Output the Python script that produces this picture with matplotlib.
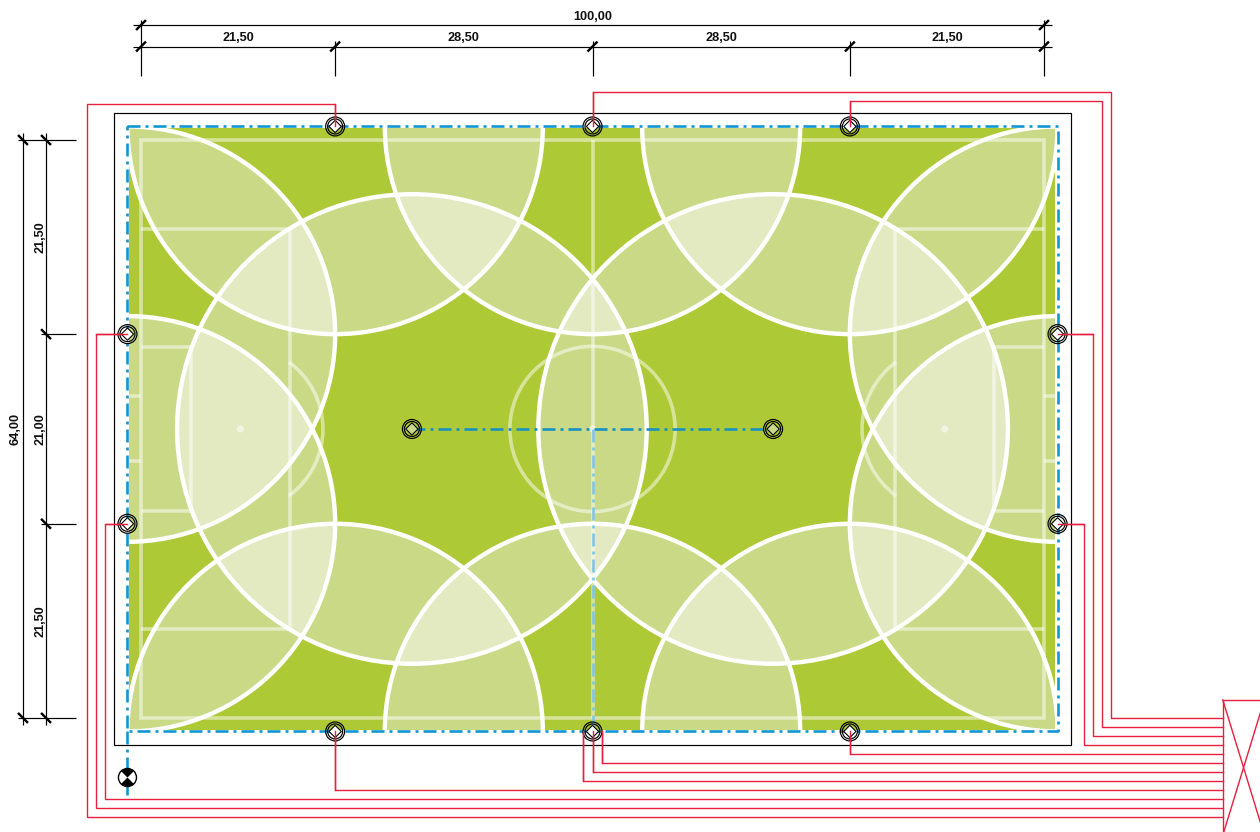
"""
plot.py - floodlighting plan of a 100 x 64 m pitch: light circles, poles, cable runs, dimensions.
All plan values are in metres, the axes map 1 m to 9.03 px.
"""
import numpy as np
import matplotlib; matplotlib.use("Agg"); import matplotlib.pyplot as plt
from matplotlib.patches import Circle, Rectangle, Polygon, Arc, Wedge

plt.rcParams["font.family"] = ["Liberation Sans", "DejaVu Sans"]

GREEN, LIGHT, LIGHTER = "#ADC935", "#C9D985", "#E3EAC2"
RED, BLUE, PALEBLUE = "#E8203F", "#0F95D3", "#7CC4E8"
PX = 0.72  # 1 px in points at dpi 100
SCALE = 9.03

# poles
POLE_X = [21.5, 50, 78.5, 21.5, 50, 78.5, -1.5, -1.5, 101.5, 101.5]
POLE_Y = [-1.5, -1.5, -1.5, 65.5, 65.5, 65.5, 21.5, 42.5, 21.5, 42.5]
CENTER_POLE_X = [30, 70]
CENTER_POLE_Y = [32, 32]
POLE_REACH = 23
CENTER_REACH = 26

# field, pitch markings
FIELD = [-1.29, -1.3, 101.2, 65.3]
FENCE = [-3, -3, 103, 67]
PITCH_W, PITCH_H = 100, 64
HALFWAY = 50
CENTER_R = 9.15
PENALTY_DEPTH, PENALTY_Y = 16.5, [9.85, 54.1]
GOAL_DEPTH, GOAL_Y = 5.5, [22.9, 41.1]
GOALPOST_Y = [28.3, 35.6]
PENALTY_SPOT = 11
ARC_HALF_ANGLE = 54

# cable runs, from pole to switch box
WIRES = [
    ([21.5, 21.5, -6, -6, 119.8], [-1.5, -4, -4, 75, 75]),
    ([-1.5, -5, -5, 119.8], [21.5, 21.5, 74, 74]),
    ([-1.5, -4, -4, 119.8], [42.5, 42.5, 73, 73]),
    ([21.5, 21.5, 119.8], [65.5, 72, 72]),
    ([49, 49, 119.8], [65.5, 71, 71]),
    ([50, 50, 119.8], [65.5, 70, 70]),
    ([51, 51, 119.8], [65.5, 69, 69]),
    ([78.5, 78.5, 119.8], [65.5, 68, 68]),
    ([101.5, 104.4, 104.4, 119.8], [42.5, 42.5, 67, 67]),
    ([101.5, 105.4, 105.4, 119.8], [21.5, 21.5, 66, 66]),
    ([78.5, 78.5, 106.4, 106.4, 119.8], [-1.5, -4.35, -4.35, 65, 65]),
    ([50, 50, 107.4, 107.4, 119.8], [-1.5, -5.35, -5.35, 64, 64]),
]
BOX_X = [119.8, 124.4]
BOX_Y = [62, 77]

# dimensions
TOP_CHAIN = [0, 21.5, 50, 78.5, 100]
TOP_LABELS = ["21,50", "28,50", "28,50", "21,50"]
LEFT_CHAIN = [0, 21.5, 42.5, 64]
LEFT_LABELS = ["21,50", "21,00", "21,50"]
TOTAL_LABEL_X, TOTAL_LABEL_Y = "100,00", "64,00"
DIM_OUTER, DIM_INNER, DIM_END = -12.73, -10.35, -7.09
DIM_LEFT_OUTER, DIM_LEFT_INNER, DIM_LEFT_END = -13.07, -10.52, -7.2
DRAIN_X, DRAIN_Y = -1.5, 70.6
DRAIN_LINE_END = 72.5

fig = plt.figure(figsize=(12.6, 8.32), dpi=100)
ax = fig.add_axes([0, 0, 1, 1])
ax.axis("off")

# overlap of the light circles: one circle stays green, two and three get lighter
all_x = np.array(POLE_X + CENTER_POLE_X, float)
all_y = np.array(POLE_Y + CENTER_POLE_Y, float)
all_r = np.array([POLE_REACH] * len(POLE_X) + [CENTER_REACH] * len(CENTER_POLE_X), float)
gx, gy = np.meshgrid(np.arange(FIELD[0], FIELD[2], 0.04), np.arange(FIELD[1], FIELD[3], 0.04))
count = np.zeros(gx.shape, int)
for cx, cy, r in zip(all_x, all_y, all_r):
    count += (gx - cx) ** 2 + (gy - cy) ** 2 <= r ** 2
lut = np.array([plt.matplotlib.colors.to_rgb(c) for c in (GREEN, GREEN, LIGHT, LIGHTER)])
ax.imshow(lut[np.clip(count, 0, 3)], extent=(FIELD[0], FIELD[2], FIELD[3], FIELD[1]),
          interpolation="nearest", aspect="auto", zorder=1)
ax.set_xlim(-141 / SCALE, (1260 - 141) / SCALE)
ax.set_ylim((832 - 140) / SCALE, -140 / SCALE)

# pitch markings
LINE_A, LINE_W = 0.5, 3.6 * PX
mark = dict(color="white", alpha=LINE_A, lw=LINE_W, zorder=2, solid_capstyle="butt")
ax.add_patch(Rectangle((0, 0), PITCH_W, PITCH_H, fill=False, ec="white", alpha=LINE_A, lw=LINE_W, zorder=2))
ax.plot([HALFWAY, HALFWAY], [0, PITCH_H], **mark)
ax.add_patch(Circle((HALFWAY, PITCH_H / 2), CENTER_R, fill=False, ec="white", alpha=LINE_A, lw=LINE_W, zorder=2))
ax.add_patch(Circle((HALFWAY, PITCH_H / 2), 0.4, fc="white", ec="none", alpha=LINE_A, zorder=2))
for goal_x, sign in ((0, 1), (PITCH_W, -1)):
    px = goal_x + sign * PENALTY_DEPTH
    gax = goal_x + sign * GOAL_DEPTH
    ax.plot([goal_x, px, px, goal_x], [PENALTY_Y[0], PENALTY_Y[0], PENALTY_Y[1], PENALTY_Y[1]], **mark)
    ax.plot([goal_x, gax, gax, goal_x], [GOAL_Y[0], GOAL_Y[0], GOAL_Y[1], GOAL_Y[1]], **mark)
    for gp in GOALPOST_Y:
        ax.plot([goal_x, goal_x - sign * 1.29], [gp, gp], **mark)
    spot = goal_x + sign * PENALTY_SPOT
    ax.add_patch(Circle((spot, PITCH_H / 2), 0.4, fc="white", ec="none", alpha=LINE_A, zorder=2))
    mid = 0 if sign > 0 else 180
    ax.add_patch(Arc((spot, PITCH_H / 2), 2 * CENTER_R, 2 * CENTER_R, theta1=mid - ARC_HALF_ANGLE,
                     theta2=mid + ARC_HALF_ANGLE, ec="white", alpha=LINE_A, lw=LINE_W, zorder=2))

# light circle outlines, cut at the field edge
clip = Rectangle((FIELD[0], FIELD[1]), FIELD[2] - FIELD[0], FIELD[3] - FIELD[1], transform=ax.transData)
for cx, cy, r in zip(all_x, all_y, all_r):
    c = Circle((cx, cy), r, fill=False, ec="white", lw=4.4 * PX, zorder=3)
    ax.add_patch(c)
    c.set_clip_path(clip)

# fence
ax.add_patch(Rectangle((FENCE[0], FENCE[1]), FENCE[2] - FENCE[0], FENCE[3] - FENCE[1],
                       fill=False, ec="black", lw=1.2 * PX, zorder=4))

# cables and box
WIRE_W = 1.4 * PX
for wx, wy in WIRES:
    ax.plot(wx, wy, color=RED, lw=WIRE_W, zorder=4, solid_joinstyle="miter")
ax.add_patch(Rectangle((BOX_X[0], BOX_Y[0]), BOX_X[1] - BOX_X[0], BOX_Y[1] - BOX_Y[0],
                       fill=False, ec=RED, lw=WIRE_W, zorder=4))
ax.plot(BOX_X, BOX_Y, color=RED, lw=WIRE_W, zorder=4)
ax.plot(BOX_X, BOX_Y[::-1], color=RED, lw=WIRE_W, zorder=4)

# dash-dot pole lines
BLUE_W = 2.6
dd = (0, (13 / BLUE_W, 5 / BLUE_W, 3 / BLUE_W, 5 / BLUE_W))
blue = dict(color=BLUE, lw=BLUE_W * PX, ls=dd, zorder=5, dash_capstyle="butt")
ax.plot([-1.5, 101.5, 101.5, -1.5, -1.5], [-1.5, -1.5, 65.5, 65.5, -1.5], **blue)
ax.plot([-1.5, -1.5], [65.5, DRAIN_LINE_END], **blue)
ax.plot(CENTER_POLE_X, CENTER_POLE_Y, **{**blue, "color": "#1590C4"})
ax.plot([HALFWAY, HALFWAY], [PITCH_H / 2, 65.5], **{**blue, "color": PALEBLUE})

# pole symbols
def pole(x, y, diamond):
    ax.add_patch(Circle((x, y), 1.05, fill=False, ec="black", lw=1.2 * PX, zorder=6))
    ax.add_patch(Circle((x, y), 0.83, fill=False, ec="black", lw=1.2 * PX, zorder=6))
    d = 0.68
    ax.add_patch(Polygon([(x - d, y), (x, y - d), (x + d, y), (x, y + d)], fc=diamond, ec="black",
                         lw=1.1 * PX, zorder=6))

for x, y in zip(POLE_X, POLE_Y):
    pole(x, y, "white")
for x, y in zip(CENTER_POLE_X, CENTER_POLE_Y):
    pole(x, y, LIGHT)
for wx, wy in WIRES:
    ax.plot(wx[:2], wy[:2], color=RED, lw=WIRE_W, zorder=7)

# drain symbol
ax.add_patch(Circle((DRAIN_X, DRAIN_Y), 1.0, fc="white", ec="black", lw=1.4 * PX, zorder=6))
ax.add_patch(Wedge((DRAIN_X, DRAIN_Y), 1.0, 45, 135, fc="black", ec="none", zorder=7))
ax.add_patch(Wedge((DRAIN_X, DRAIN_Y), 1.0, 225, 315, fc="black", ec="none", zorder=7))

# dimensions
dim = dict(color="black", lw=1.2 * PX, zorder=4, solid_capstyle="butt")
slash = dict(color="black", lw=2.4 * PX, zorder=5, solid_capstyle="butt")
txt = dict(fontsize=9.2, fontweight="bold", color="#111111", ha="center", va="center")
s = 0.55
ax.plot([TOP_CHAIN[0] - 0.9, TOP_CHAIN[-1] + 0.9], [DIM_OUTER, DIM_OUTER], **dim)
ax.plot([TOP_CHAIN[0] - 0.9, TOP_CHAIN[-1] + 0.9], [DIM_INNER, DIM_INNER], **dim)
for x in TOP_CHAIN:
    top = DIM_OUTER - 0.6 if x in (TOP_CHAIN[0], TOP_CHAIN[-1]) else DIM_INNER - 0.6
    ax.plot([x, x], [top, DIM_END], **dim)
    ax.plot([x - s, x + s], [DIM_INNER + s, DIM_INNER - s], **slash)
    if x in (TOP_CHAIN[0], TOP_CHAIN[-1]):
        ax.plot([x - s, x + s], [DIM_OUTER + s, DIM_OUTER - s], **slash)
ax.text(HALFWAY, DIM_OUTER - 0.88, TOTAL_LABEL_X, **txt)
for a, b, lab in zip(TOP_CHAIN, TOP_CHAIN[1:], TOP_LABELS):
    ax.text((a + b) / 2, DIM_INNER - 0.95, lab, **txt)

ax.plot([DIM_LEFT_OUTER, DIM_LEFT_OUTER], [LEFT_CHAIN[0] - 0.8, LEFT_CHAIN[-1] + 0.8], **dim)
ax.plot([DIM_LEFT_INNER, DIM_LEFT_INNER], [LEFT_CHAIN[0] - 0.8, LEFT_CHAIN[-1] + 0.8], **dim)
for y in LEFT_CHAIN:
    left = DIM_LEFT_OUTER - 0.6 if y in (LEFT_CHAIN[0], LEFT_CHAIN[-1]) else DIM_LEFT_INNER - 0.6
    ax.plot([left, DIM_LEFT_END], [y, y], **dim)
    ax.plot([DIM_LEFT_INNER - s, DIM_LEFT_INNER + s], [y - s, y + s], **slash)
    if y in (LEFT_CHAIN[0], LEFT_CHAIN[-1]):
        ax.plot([DIM_LEFT_OUTER - s, DIM_LEFT_OUTER + s], [y - s, y + s], **slash)
ax.text(DIM_LEFT_OUTER - 0.78, PITCH_H / 2, TOTAL_LABEL_Y, rotation=90, **txt)
for a, b, lab in zip(LEFT_CHAIN, LEFT_CHAIN[1:], LEFT_LABELS):
    ax.text(DIM_LEFT_INNER - 0.65, (a + b) / 2, lab, rotation=90, **txt)

fig.savefig("out.png", dpi=100, facecolor="white")
